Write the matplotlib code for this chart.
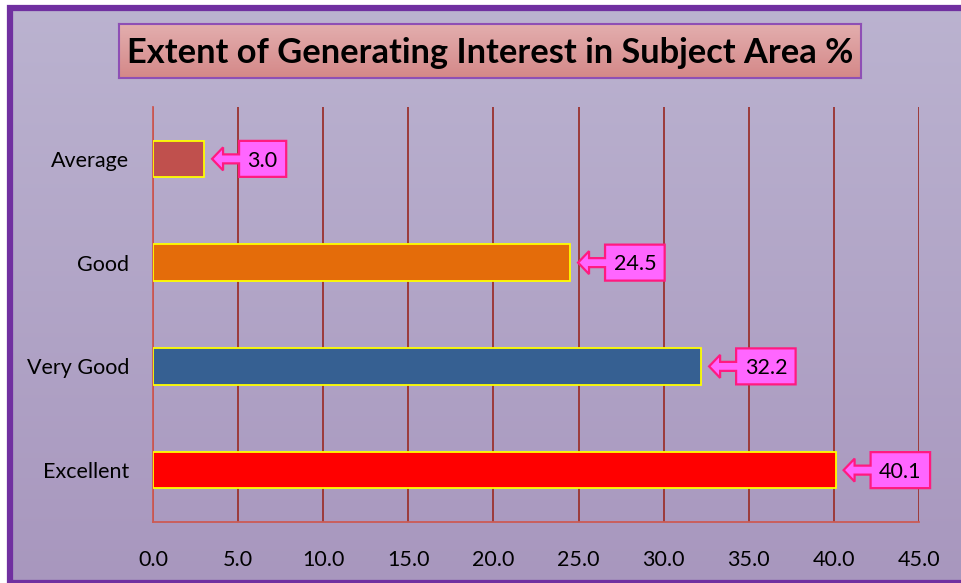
import numpy as np
import matplotlib
matplotlib.use("Agg")
import matplotlib.pyplot as plt
import matplotlib.patches as mpatches
import matplotlib.transforms as mtransforms

categories = ["Excellent", "Very Good", "Good", "Average"]
values = [40.1, 32.2, 24.5, 3.0]
bar_colors = ["#ff0000", "#366092", "#e46c0a", "#c0504d"]
xticks = [0, 5, 10, 15, 20, 25, 30, 35, 40, 45]
title = "Extent of Generating Interest in Subject Area %"

W, H = 962, 583
FS = 15.5
fig = plt.figure(figsize=(W / 100, H / 100), dpi=100)
fig.patch.set_facecolor("white")

# background gradient
bg = fig.add_axes([0, 0, 1, 1], zorder=-10)
grad = np.linspace(0, 1, 256).reshape(-1, 1)
top = np.array([0xbb, 0xb3, 0xd0]) / 255
bot = np.array([0xa8, 0x97, 0xbe]) / 255
img = top[None, None, :] * (1 - grad[:, :, None]) + bot[None, None, :] * grad[:, :, None]
bg.imshow(img, aspect="auto", extent=[0, 1, 0, 1], origin="upper")
bg.set_xlim(0, 1); bg.set_ylim(0, 1)
bg.axis("off")
ident = mtransforms.IdentityTransform()
fig.add_artist(mpatches.Rectangle((0, H - 7), W, 7, transform=ident, facecolor="white", edgecolor="none", zorder=-5))
fig.add_artist(mpatches.Rectangle((0, 0), 7, H, transform=ident, facecolor="white", edgecolor="none", zorder=-5))
fig.add_artist(mpatches.Rectangle((9.5, 0), W + 20, H - 7.5, transform=ident, facecolor="none",
                                  edgecolor="#7030a0", linewidth=4.5, zorder=-4))

ax = fig.add_axes([153 / W, (H - 522) / H, (919 - 153) / W, (522 - 107) / H])
ax.set_facecolor("none")
ypos = np.arange(len(categories))
ax.barh(ypos, values, height=0.35, color=bar_colors, edgecolor="#ffff00", linewidth=1.3, zorder=3)
ax.set_xlim(0, 45)
ax.set_ylim(-0.5, len(categories) - 0.5)
ax.set_xticks(xticks)
ax.set_xticklabels([f"{t:.1f}" for t in xticks])
ax.set_yticks(ypos)
ax.set_yticklabels(categories)
ax.tick_params(axis="both", length=0, labelsize=FS, colors="black")
ax.tick_params(axis="x", pad=20)
ax.tick_params(axis="y", pad=17)
for lab in ax.get_xticklabels() + ax.get_yticklabels():
    lab.set_family(["Lato", "DejaVu Sans"])
ax.grid(axis="x", color="#9c3a3a", linewidth=1.4, zorder=1)
ax.set_axisbelow(True)
for s in ["top", "right"]:
    ax.spines[s].set_visible(False)
for s in ["left", "bottom"]:
    ax.spines[s].set_color("#cc5a55")
    ax.spines[s].set_linewidth(1.3)

# title box with gradient
tx0, tx1, ty0, ty1 = 119, 861, 24, 78
tax = fig.add_axes([tx0 / W, (H - ty1) / H, (tx1 - tx0) / W, (ty1 - ty0) / H])
ttop = np.array([0xe3, 0xae, 0xae]) / 255
tbot = np.array([0xd4, 0x88, 0x88]) / 255
timg = ttop[None, None, :] * (1 - grad[:, :, None]) + tbot[None, None, :] * grad[:, :, None]
tax.imshow(timg, aspect="auto", extent=[0, 1, 0, 1], origin="upper")
tax.set_xlim(0, 1); tax.set_ylim(0, 1)
tax.set_xticks([]); tax.set_yticks([])
for s in tax.spines.values():
    s.set_color("#8e4fb5")
    s.set_linewidth(1.5)
ttxt = tax.text(0.5, 0.47, title, ha="center", va="center", fontsize=22,
                fontweight="bold", family=["Lato", "DejaVu Sans"], color="black")

fig.canvas.draw()
r = fig.canvas.get_renderer()
tw = ttxt.get_window_extent(r).width
ttxt.set_fontsize(22 * 724 / tw)

# callouts
for v, y in zip(values, ypos):
    px, py = ax.transData.transform((v, y))
    tip = px + 8
    t = fig.text(0, 0, f"{v:.1f}", fontsize=FS, family=["Lato", "DejaVu Sans"], transform=ident)
    w = t.get_window_extent(r).width
    bw = w + 17
    h, Hh, s, L, B = 11, 11.5, 4.5, 27, 18
    verts = [(tip, py), (tip + h, py + Hh), (tip + h, py + s), (tip + L, py + s), (tip + L, py + B),
             (tip + L + bw, py + B), (tip + L + bw, py - B), (tip + L, py - B), (tip + L, py - s),
             (tip + h, py - s), (tip + h, py - Hh)]
    fig.add_artist(mpatches.Polygon(verts, closed=True, transform=ident, facecolor="#ff66ff",
                                    edgecolor="#ff1a80", linewidth=1.6, zorder=5))
    t.set_ha("center")
    t.set_va("baseline")
    t.set_zorder(6)
    t.set_position((tip + L + bw / 2, py - 0.36 * FS * 100 / 72))

fig.savefig("out.png", dpi=100)
